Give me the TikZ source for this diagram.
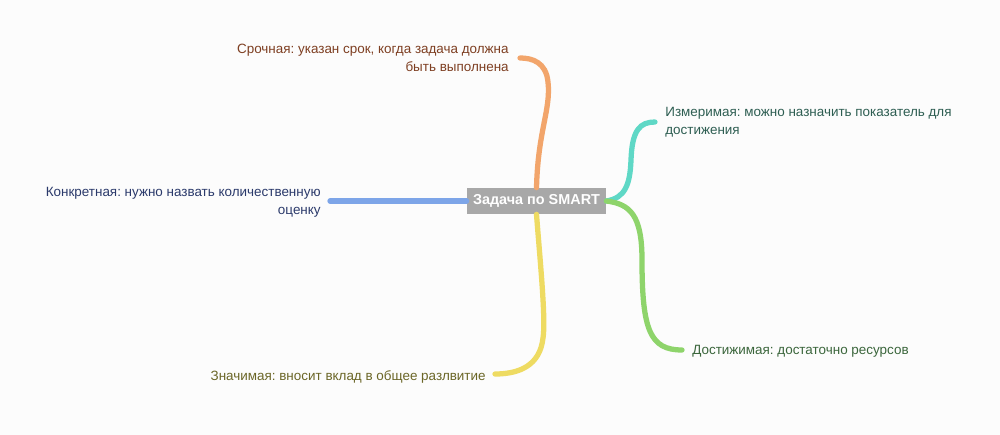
\documentclass[tikz,border=0pt]{standalone}
\usepackage{fontspec}
\setmainfont{Liberation Sans}
\usepackage{xcolor}
\usepackage{tikz}
\frenchspacing

\definecolor{bgcol}{HTML}{FCFCFC}
\definecolor{rootcol}{HTML}{A8A8A8}
\definecolor{orangeline}{HTML}{F2A56B}
\definecolor{orangetext}{HTML}{7E3F22}
\definecolor{blueline}{HTML}{7DA5E8}
\definecolor{bluetext}{HTML}{2B3A6B}
\definecolor{tealline}{HTML}{5FD8C6}
\definecolor{tealtext}{HTML}{2E5E52}
\definecolor{greenline}{HTML}{8ED46B}
\definecolor{greentext}{HTML}{3B663C}
\definecolor{yellowline}{HTML}{EEDB62}
\definecolor{yellowtext}{HTML}{6B6627}

\tikzset{
  rootbox/.style={fill=rootcol, text=white, minimum width=139*0.02cm,
    minimum height=26*0.02cm, inner sep=0pt,
    font=\fontsize{8.2}{10}\selectfont\bfseries},
  leaftext/.style={inner sep=0pt, font=\fontsize{7.65}{10}\selectfont},
  branch/.style={line width=3pt, line cap=round}
}

\begin{document}
\begin{tikzpicture}[x=0.02cm, y=-0.02cm]
  % Background and frame
  \useasboundingbox[fill=bgcol] (0,0) rectangle (1000,435);

  % Central topic
  \node[rootbox] (root) at (536.5,201) {Задача по SMART};

  % Branch tips
  \coordinate (tipS) at (330,201);
  \coordinate (tipT) at (520,58);
  \coordinate (tipM) at (655,122);
  \coordinate (tipA) at (682,350);
  \coordinate (tipR) at (495,374);

  % Leaf labels
  \node[leaftext, text=bluetext, align=right, anchor=east] (spec) at (321,202)
    {Конкретная: нужно назвать количественную\\оценку};
  \node[leaftext, text=orangetext, align=right, anchor=east] (time) at (509,58)
    {Срочная: указан срок, когда задача должна\\быть выполнена};
  \node[leaftext, text=tealtext, align=left, anchor=west] (meas) at (665,122)
    {Измеримая: можно назначить показатель для\\достижения};
  \node[leaftext, text=greentext, anchor=west] (achv) at (692,351)
    {Достижимая: достаточно ресурсов};
  \node[leaftext, text=yellowtext, anchor=east] (relv) at (486,377)
    {Значимая: вносит вклад в общее разлвитие};

  % Branches from the centre
  \draw[branch, blueline] (root.west) -- (tipS);
  \draw[branch, orangeline] (root.north) .. controls (538,130) and (551,110) .. (548,82)
    .. controls (546,62) and (532,58) .. (tipT);
  \draw[branch, tealline] (root.east) .. controls (625,198) and (630,185) .. (631,160)
    .. controls (632,130) and (640,122) .. (tipM);
  \draw[branch, greenline] (root.east) .. controls (630,204) and (642,215) .. (642,260)
    .. controls (642,330) and (650,350) .. (tipA);
  \draw[branch, yellowline] (root.south) .. controls (540,260) and (546,320) .. (543,338)
    .. controls (540,365) and (520,374) .. (tipR);
\end{tikzpicture}
\end{document}
